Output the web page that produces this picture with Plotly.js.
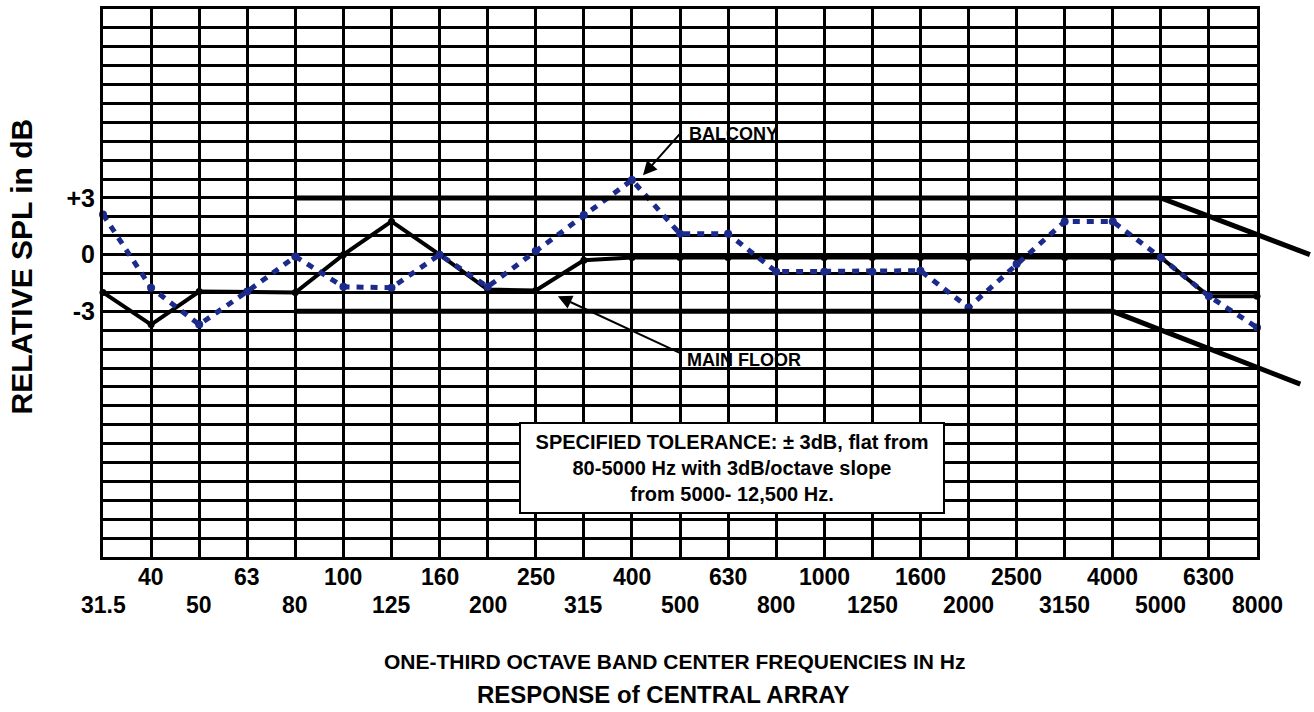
<!DOCTYPE html>
<html>
<head>
<meta charset="utf-8">
<script src="https://cdn.plot.ly/plotly-3.0.1.min.js"></script>
<style>html,body{margin:0;padding:0;background:#fff;}#chart{width:1314px;height:712px;}</style>
</head>
<body>
<div id="chart"></div>
<script>
// One-third octave band centre frequencies (Hz)
const categories = ['31.5','40','50','63','80','100','125','160','200','250','315','400','500','630','800','1000','1250','1600','2000','2500','3150','4000','5000','6300','8000'];
// Relative SPL (dB)
const mainFloor = [-2.0,-3.7,-1.95,-1.95,-2.0,0,1.76,0,-1.85,-1.9,-0.3,-0.15,-0.15,-0.15,-0.15,-0.15,-0.15,-0.15,-0.15,-0.15,-0.15,-0.15,-0.15,-2.2,-2.2];
const balcony = [2.13,-1.75,-3.7,-1.95,-0.1,-1.7,-1.75,0,-1.7,0.2,2.1,3.95,1.1,1.1,-0.9,-0.9,-0.9,-0.85,-2.8,-0.5,1.75,1.75,-0.15,-2.2,-3.85];
// Tolerance envelope (band index, dB)
const tolUpperIdx = [4, 22, 25.1];
const tolUpperDb  = [3, 3, 0];
const tolLowerIdx = [4, 21, 24.9];
const tolLowerDb  = [-3, -3, -6.85];
// Y axis tick labels
const yTickVals = [3, 0, -3];
const yTickText = ['+3', '0', '-3'];
const yMin = -16, yMax = 13;

const idx = categories.map((_, i) => i);
const FONT = 'Liberation Sans, Arial, Helvetica, sans-serif';

const yGrid = [];
const yGridText = [];
for (let v = yMin; v <= yMax; v++) {
  yGrid.push(v);
  const k = yTickVals.indexOf(v);
  yGridText.push(k >= 0 ? yTickText[k] : '');
}

const plotW = 1314 - 103;            // margin r = 0
const xDomainEnd = 1154 / plotW;
const x2Max = (categories.length - 1) / xDomainEnd;

const traces = [
  {x: tolUpperIdx, y: tolUpperDb, xaxis: 'x2', yaxis: 'y2', mode: 'lines',
   line: {color: '#000', width: 5}, hoverinfo: 'skip'},
  {x: tolLowerIdx, y: tolLowerDb, xaxis: 'x2', yaxis: 'y2', mode: 'lines',
   line: {color: '#000', width: 5}, hoverinfo: 'skip'},
  {x: idx, y: mainFloor, mode: 'lines+markers', name: 'MAIN FLOOR',
   line: {color: '#000', width: 4}, marker: {color: '#000', size: 7}, cliponaxis: false},
  {x: idx, y: balcony, mode: 'lines+markers', name: 'BALCONY',
   line: {color: '#1c2a8c', width: 5, dash: '7px,7px'}, marker: {color: '#1c2a8c', size: 8}, cliponaxis: false}
];

const annotations = [];
categories.forEach((c, i) => {
  annotations.push({
    x: i, xref: 'x', yref: 'paper', y: (i % 2 === 1) ? -0.037 : -0.088,
    xanchor: 'center', yanchor: 'middle', showarrow: false, text: c,
    font: {family: FONT, size: 23, color: '#000', weight: 700}
  });
});
annotations.push(
  {xref: 'paper', yref: 'paper', x: 0.472, y: -0.19, xanchor: 'center', yanchor: 'middle', showarrow: false,
   text: 'ONE-THIRD OCTAVE BAND CENTER FREQUENCIES IN Hz', font: {family: FONT, size: 21, color: '#000', weight: 700}},
  {xref: 'paper', yref: 'paper', x: 0.463, y: -0.25, xanchor: 'center', yanchor: 'middle', showarrow: false,
   text: 'RESPONSE of CENTRAL ARRAY', font: {family: FONT, size: 24, color: '#000', weight: 700}},
  {xref: 'paper', yref: 'paper', x: -0.067, y: 0.53, xanchor: 'center', yanchor: 'middle', showarrow: false,
   textangle: -90, text: 'RELATIVE SPL in dB', font: {family: FONT, size: 30, color: '#000', weight: 700}},
  {xref: 'x', yref: 'y', x: 12.15, y: 6.4, xanchor: 'left', yanchor: 'middle', showarrow: false,
   text: 'BALCONY', font: {family: FONT, size: 18, color: '#000', weight: 700}},
  {xref: 'x', yref: 'y', x: 12.1, y: -5.55, xanchor: 'left', yanchor: 'middle', showarrow: false,
   text: 'MAIN FLOOR', font: {family: FONT, size: 18, color: '#000', weight: 700}},
  {xref: 'x', yref: 'y', x: 11.23, y: 4.2, ax: 40, ay: -45, text: '', showarrow: true,
   arrowhead: 2, arrowsize: 1.4, arrowwidth: 2, arrowcolor: '#000'},
  {xref: 'x', yref: 'y', x: 9.46, y: -2.2, ax: 125, ay: 58, text: '', showarrow: true,
   arrowhead: 2, arrowsize: 1.4, arrowwidth: 2, arrowcolor: '#000'},
  {xref: 'x', yref: 'y', x: 13.08, y: -11.28, xanchor: 'center', yanchor: 'middle', showarrow: false,
   text: 'SPECIFIED TOLERANCE: \u00B1 3dB, flat from<br>80-5000 Hz with 3dB/octave slope<br>from 5000- 12,500 Hz.',
   align: 'center', bgcolor: '#fff', bordercolor: '#000', borderwidth: 2, borderpad: 4, width: 414, height: 80,
   font: {family: FONT, size: 20, color: '#000', weight: 700}}
);

const layout = {
  width: 1314, height: 712,
  margin: {l: 103, r: 0, t: 9, b: 155},
  paper_bgcolor: '#fff', plot_bgcolor: 'rgba(0,0,0,0)',
  showlegend: false,
  font: {family: FONT, color: '#000'},
  xaxis: {domain: [0, xDomainEnd], range: [0, categories.length - 1], tickvals: idx, showticklabels: false,
          ticks: '', showgrid: true, gridcolor: '#000', gridwidth: 3, zeroline: false,
          showline: true, mirror: true, linecolor: '#000', linewidth: 3, fixedrange: true},
  yaxis: {range: [yMin, yMax], tickvals: yGrid, ticktext: yGridText, ticks: '', showgrid: true,
          gridcolor: '#000', gridwidth: 3, zeroline: false, showline: true, mirror: true,
          linecolor: '#000', linewidth: 3, tickfont: {family: FONT, size: 25, color: '#000', weight: 700},
          fixedrange: true},
  xaxis2: {domain: [0, 1], range: [0, x2Max], anchor: 'y2', visible: false, fixedrange: true},
  yaxis2: {domain: [0, 1], range: [yMin, yMax], anchor: 'x2', visible: false, fixedrange: true},
  annotations: annotations
};

Plotly.newPlot('chart', traces, layout, {staticPlot: true, displayModeBar: false});
</script>
</body>
</html>
